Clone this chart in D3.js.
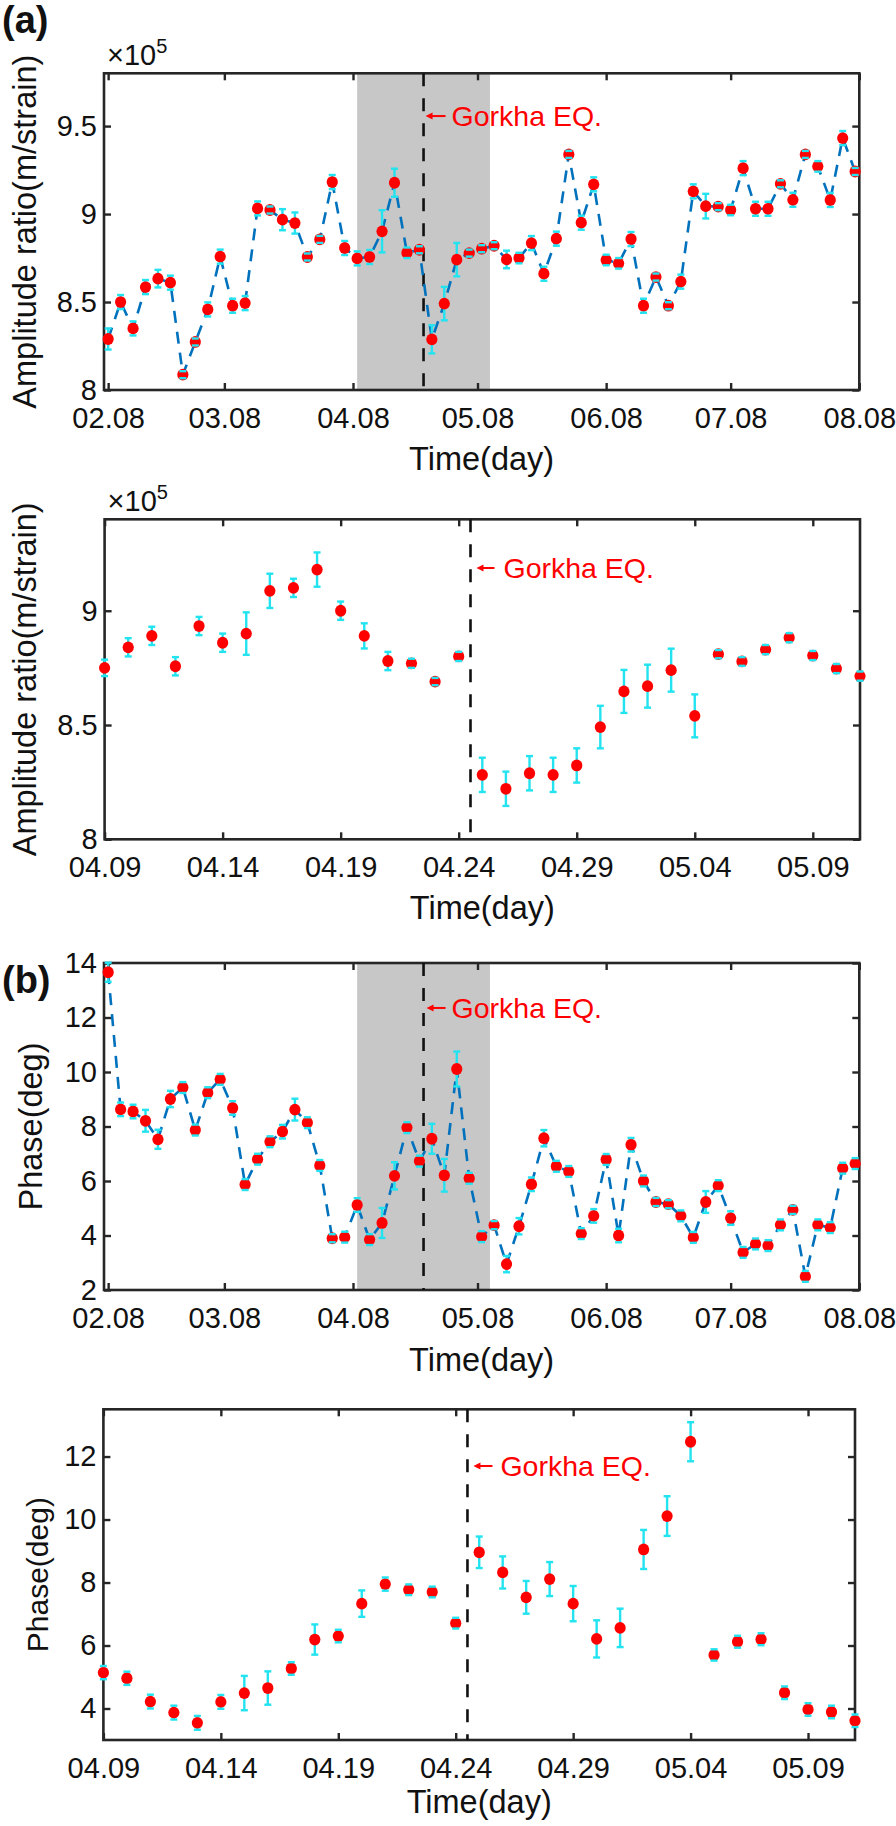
<!DOCTYPE html>
<html><head><meta charset="utf-8">
<script src="https://cdn.jsdelivr.net/npm/d3@7"></script>
<style>body{margin:0;background:#fff}svg{display:block}</style>
</head><body>
<script>
// ---------------- DATA ----------------
// (a)/(b) top panels: samples every 3 days, 2015-02-08 .. 2015-08-07
const topDates = [
 "2015-02-08","2015-02-11","2015-02-14","2015-02-17","2015-02-20","2015-02-23","2015-02-26",
 "2015-03-01","2015-03-04","2015-03-07","2015-03-10","2015-03-13","2015-03-16","2015-03-19","2015-03-22","2015-03-25","2015-03-28","2015-03-31",
 "2015-04-03","2015-04-06","2015-04-09","2015-04-12","2015-04-15","2015-04-18","2015-04-21","2015-04-24","2015-04-27","2015-04-30",
 "2015-05-03","2015-05-06","2015-05-09","2015-05-12","2015-05-15","2015-05-18","2015-05-21","2015-05-24","2015-05-27","2015-05-30",
 "2015-06-02","2015-06-05","2015-06-08","2015-06-11","2015-06-14","2015-06-17","2015-06-20","2015-06-23","2015-06-26","2015-06-29",
 "2015-07-02","2015-07-05","2015-07-08","2015-07-11","2015-07-14","2015-07-17","2015-07-20","2015-07-23","2015-07-26","2015-07-29",
 "2015-08-01","2015-08-04","2015-08-07"];
// amplitude ratio (x10^5 m/strain)
const ampTop = [8.29,8.50,8.35,8.585,8.633,8.61,8.087,8.273,8.458,8.758,
 8.479,8.494,9.032,9.023,8.968,8.949,8.756,8.856,9.182,8.807,
 8.748,8.756,8.902,9.178,8.78,8.797,8.288,8.491,8.741,8.778,
 8.803,8.82,8.742,8.75,8.835,8.661,8.86,9.339,8.951,9.169,
 8.739,8.72,8.858,8.479,8.642,8.479,8.616,9.129,9.045,9.042,
 9.023,9.261,9.03,9.03,9.172,9.081,9.339,9.271,9.08,9.432,
 9.242];
const ampTopErr = [0.06,0.04,0.04,0.04,0.05,0.04,0.02,0.02,0.04,0.04,
 0.04,0.04,0.04,0.02,0.06,0.06,0.02,0.02,0.04,0.04,
 0.04,0.04,0.12,0.08,0.03,0.02,0.08,0.095,0.095,0.02,
 0.02,0.02,0.05,0.03,0.04,0.04,0.04,0.02,0.04,0.04,
 0.03,0.03,0.04,0.04,0.02,0.02,0.04,0.04,0.07,0.02,
 0.03,0.04,0.04,0.04,0.02,0.04,0.02,0.03,0.04,0.04,
 0.02];
// phase (deg)
const phaseTop = [13.66,8.63,8.55,8.21,7.53,9.01,9.43,7.87,9.24,9.73,
 8.68,5.87,6.80,7.44,7.81,8.62,8.14,6.57,3.90,3.94,
 5.12,3.85,4.46,6.19,7.96,6.73,7.55,6.21,10.11,6.10,
 3.96,4.38,2.95,4.34,5.88,7.57,6.54,6.35,4.07,4.72,
 6.79,4.00,7.33,6.00,5.23,5.15,4.72,3.93,5.23,5.83,
 4.64,3.38,3.69,3.63,4.39,4.94,2.50,4.39,4.29,6.47,
 6.64];
const phaseTopErr = [0.35,0.25,0.25,0.4,0.35,0.3,0.2,0.2,0.2,0.2,
 0.25,0.2,0.2,0.2,0.25,0.4,0.2,0.2,0.15,0.2,
 0.25,0.2,0.55,0.5,0.2,0.2,0.55,0.6,0.64,0.2,
 0.2,0.15,0.3,0.3,0.25,0.3,0.2,0.2,0.2,0.25,
 0.2,0.25,0.25,0.2,0.15,0.15,0.2,0.2,0.4,0.2,
 0.25,0.2,0.2,0.2,0.2,0.15,0.2,0.2,0.2,0.2,
 0.2];

// zoomed panels: daily samples 2015-04-09 .. 2015-05-11
const zoomDates = [
 "2015-04-09","2015-04-10","2015-04-11","2015-04-12","2015-04-13","2015-04-14","2015-04-15","2015-04-16","2015-04-17","2015-04-18",
 "2015-04-19","2015-04-20","2015-04-21","2015-04-22","2015-04-23","2015-04-24","2015-04-25","2015-04-26","2015-04-27","2015-04-28",
 "2015-04-29","2015-04-30","2015-05-01","2015-05-02","2015-05-03","2015-05-04","2015-05-05","2015-05-06","2015-05-07","2015-05-08",
 "2015-05-09","2015-05-10","2015-05-11"];
const ampZoom = [8.75,8.84,8.89,8.757,8.933,8.86,8.90,9.087,9.10,9.18,
 9.0,8.89,8.78,8.77,8.69,8.80,8.282,8.221,8.289,8.282,
 8.323,8.491,8.647,8.67,8.74,8.54,8.81,8.778,8.83,8.882,
 8.804,8.747,8.714];
const ampZoomErr = [0.036,0.04,0.04,0.04,0.04,0.04,0.093,0.075,0.04,0.075,
 0.04,0.055,0.04,0.02,0.016,0.02,0.075,0.075,0.075,0.075,
 0.075,0.093,0.094,0.094,0.094,0.094,0.018,0.019,0.02,0.02,
 0.02,0.02,0.02];
const phaseZoom = [5.14,4.96,4.22,3.87,3.545,4.21,4.49,4.65,5.27,6.19,
 6.30,7.33,7.95,7.77,7.70,6.71,8.96,8.32,7.53,8.11,
 7.33,6.21,6.56,9.05,10.11,12.47,5.70,6.12,6.20,4.50,
 3.97,3.89,3.61];
const phaseZoomErr = [0.21,0.21,0.22,0.22,0.22,0.22,0.545,0.53,0.2,0.48,
 0.2,0.42,0.21,0.17,0.17,0.17,0.5,0.51,0.52,0.54,
 0.56,0.59,0.61,0.62,0.63,0.62,0.18,0.19,0.19,0.2,
 0.2,0.2,0.2];

const topTickLabels  = ["02.08","03.08","04.08","05.08","06.08","07.08","08.08"];
const zoomTickLabels = ["04.09","04.14","04.19","04.24","04.29","05.04","05.09"];
const topRange  = ["2015-02-07","2015-08-08"];
const zoomRange = ["2015-04-09","2015-05-11"];
const shadeWindow = ["2015-04-09","2015-05-11"];
const eqTop  = "2015-04-25T00:00";
const eqZoom = "2015-04-24T12:00";
const ampTopTicks = [8, 8.5, 9, 9.5];
const ampZoomTicks = [8, 8.5, 9];
const phaseTopTicks = [2, 4, 6, 8, 10, 12, 14];
const phaseZoomTicks = [4, 6, 8, 10, 12];
const eqText = "Gorkha EQ.";
const xTitle = "Time(day)";
const ampTitle = "Amplitude ratio(m/strain)";
const phaseTitle = "Phase(deg)";

// ---------------- DRAW ----------------
const FONT = "'Liberation Sans', Arial, Helvetica, sans-serif";
const AX = "#262626", CYAN = "#22e3ef", RED = "#ff0000", BLUE = "#0072bd", SHADE = "#c8c7c8";
const pDay = d3.timeParse("%Y-%m-%d");
const pDT = d3.timeParse("%Y-%m-%dT%H:%M");
const tickDate = s => new Date(2015, +s.slice(0,2) - 1, +s.slice(3));

const svg = d3.select("body").append("svg").attr("width", 896).attr("height", 1826)
  .style("font-family", FONT);

function panel(c) {
  const g = svg.append("g");
  const x = d3.scaleTime().domain(c.xRange.map(pDay)).range([c.left, c.right]);
  const y = d3.scaleLinear().domain(c.yDomain).range([c.bottom, c.top]);
  const dates = c.dates.map(pDay);
  const W = c.right - c.left, H = c.bottom - c.top;

  if (c.shade) {
    const s0 = x(pDay(shadeWindow[0])), s1 = x(pDay(shadeWindow[1]));
    g.append("rect").attr("x", s0).attr("y", c.top).attr("width", s1 - s0).attr("height", H).attr("fill", SHADE);
  }
  // frame
  g.append("rect").attr("x", c.left).attr("y", c.top).attr("width", W).attr("height", H)
    .attr("fill", "none").attr("stroke", AX).attr("stroke-width", 2.6);

  const xt = c.xTicks.map(tickDate);
  const styleAxis = sel => {
    sel.select(".domain").remove();
    sel.selectAll(".tick line").attr("stroke", AX).attr("stroke-width", 2.4);
    sel.selectAll(".tick text").attr("fill", "#111").style("font-family", FONT).style("font-size", "29px");
  };
  const xb = g.append("g").attr("transform", `translate(0,${c.bottom})`)
    .call(d3.axisBottom(x).tickValues(xt).tickSize(-7).tickSizeOuter(0).tickFormat((d, i) => c.xTicks[i]))
    .call(styleAxis);
  xb.selectAll(".tick text").attr("y", 38).attr("dy", null);
  g.append("g").attr("transform", `translate(0,${c.top})`)
    .call(d3.axisTop(x).tickValues(xt).tickSize(-7).tickSizeOuter(0).tickFormat(""))
    .call(styleAxis);
  g.append("g").attr("transform", `translate(${c.left},0)`)
    .call(d3.axisLeft(y).tickValues(c.yTicks).tickSize(-7).tickSizeOuter(0).tickPadding(7).tickFormat(d => String(d)))
    .call(styleAxis);
  g.append("g").attr("transform", `translate(${c.right},0)`)
    .call(d3.axisRight(y).tickValues(c.yTicks).tickSize(-7).tickSizeOuter(0).tickFormat(""))
    .call(styleAxis);

  // EQ dashed line
  const xe = x(pDT(c.eq));
  g.append("line").attr("x1", xe).attr("x2", xe).attr("y1", c.top).attr("y2", c.bottom)
    .attr("stroke", "#111").attr("stroke-width", 2.6).attr("stroke-dasharray", "13,12");

  // data line
  if (c.line) {
    g.append("path").datum(c.values)
      .attr("d", d3.line().x((d, i) => x(dates[i])).y(d => y(d)))
      .attr("fill", "none").attr("stroke", BLUE).attr("stroke-width", 2.6).attr("stroke-dasharray", "12,9");
  }
  // error bars (stems)
  g.append("g").selectAll("line").data(c.values).join("line")
    .attr("x1", (d, i) => x(dates[i])).attr("x2", (d, i) => x(dates[i]))
    .attr("y1", (d, i) => y(d - c.err[i])).attr("y2", (d, i) => y(d + c.err[i]))
    .attr("stroke", CYAN).attr("stroke-width", 2.4);
  // markers
  g.append("g").selectAll("ellipse").data(c.values).join("ellipse")
    .attr("cx", (d, i) => x(dates[i])).attr("cy", d => y(d))
    .attr("rx", 5.6).attr("ry", 5.9).attr("fill", RED);
  // caps
  const caps = [];
  c.values.forEach((d, i) => { caps.push([dates[i], d - c.err[i]]); caps.push([dates[i], d + c.err[i]]); });
  g.append("g").selectAll("line").data(caps).join("line")
    .attr("x1", d => x(d[0]) - 3.5).attr("x2", d => x(d[0]) + 3.5)
    .attr("y1", d => y(d[1])).attr("y2", d => y(d[1]))
    .attr("stroke", CYAN).attr("stroke-width", 2.4);

  // annotation
  const ya = y(c.annY);
  g.append("line").attr("x1", xe + c.arrow[0] + 5).attr("x2", xe + c.arrow[1]).attr("y1", ya).attr("y2", ya)
    .attr("stroke", RED).attr("stroke-width", 2);
  g.append("path").attr("d", `M${xe + c.arrow[0]},${ya} l7,-3.5 l0,7 z`).attr("fill", RED);
  g.append("text").attr("x", xe + c.arrow[2]).attr("y", ya).attr("dy", "0.35em")
    .attr("fill", RED).style("font-size", "28.5px").text(eqText);

  // axis titles
  g.append("text").attr("x", (c.left + c.right) / 2).attr("y", c.bottom + c.xTitleGap)
    .attr("text-anchor", "middle").attr("fill", "#111").style("font-size", "32.5px").text(xTitle);
  g.append("text").attr("transform", `translate(${c.yTitleX},${(c.top + c.bottom) / 2}) rotate(-90)`)
    .attr("text-anchor", "middle").attr("fill", "#111").style("font-size", c.yTitleSize + "px").text(c.yTitle);

  // exponent
  if (c.exp) {
    const t = g.append("text").attr("x", c.left + 3).attr("y", c.top - 8).attr("fill", "#111").style("font-size", "29px");
    t.append("tspan").text("\u00d710");
    t.append("tspan").attr("dy", -12).style("font-size", "20px").text("5");
  }
}

panel({ left: 104, right: 859.3, top: 73.3, bottom: 390, xRange: topRange, xTicks: topTickLabels,
  yDomain: [8, 9.8], yTicks: ampTopTicks, dates: topDates, values: ampTop, err: ampTopErr,
  line: true, shade: true, eq: eqTop, annY: 9.557, arrow: [2, 22, 28],
  xTitleGap: 80, yTitle: ampTitle, yTitleX: 36, yTitleSize: 32.5, exp: true });

panel({ left: 104.6, right: 860, top: 519.3, bottom: 839.3, xRange: zoomRange, xTicks: zoomTickLabels,
  yDomain: [8, 9.4], yTicks: ampZoomTicks, dates: zoomDates, values: ampZoom, err: ampZoomErr,
  line: false, shade: false, eq: eqZoom, annY: 9.187, arrow: [6, 24, 33],
  xTitleGap: 80, yTitle: ampTitle, yTitleX: 36, yTitleSize: 32.5, exp: true });

panel({ left: 104, right: 859.3, top: 963, bottom: 1290, xRange: topRange, xTicks: topTickLabels,
  yDomain: [2, 14], yTicks: phaseTopTicks, dates: topDates, values: phaseTop, err: phaseTopErr,
  line: true, shade: true, eq: eqTop, annY: 12.35, arrow: [3, 22, 28],
  xTitleGap: 81, yTitle: phaseTitle, yTitleX: 42, yTitleSize: 32.5, exp: false });

panel({ left: 103.4, right: 855, top: 1409.3, bottom: 1740, xRange: zoomRange, xTicks: zoomTickLabels,
  yDomain: [3, 13.5], yTicks: phaseZoomTicks, dates: zoomDates, values: phaseZoom, err: phaseZoomErr,
  line: false, shade: false, eq: eqZoom, annY: 11.7, arrow: [6, 25, 33],
  xTitleGap: 73, yTitle: phaseTitle, yTitleX: 48, yTitleSize: 30, exp: false });

// panel letters
svg.append("text").attr("x", 2).attr("y", 33).attr("fill", "#111").style("font-size", "38px").style("font-weight", "bold").text("(a)");
svg.append("text").attr("x", 2).attr("y", 993).attr("fill", "#111").style("font-size", "38px").style("font-weight", "bold").text("(b)");
</script>
</body></html>
